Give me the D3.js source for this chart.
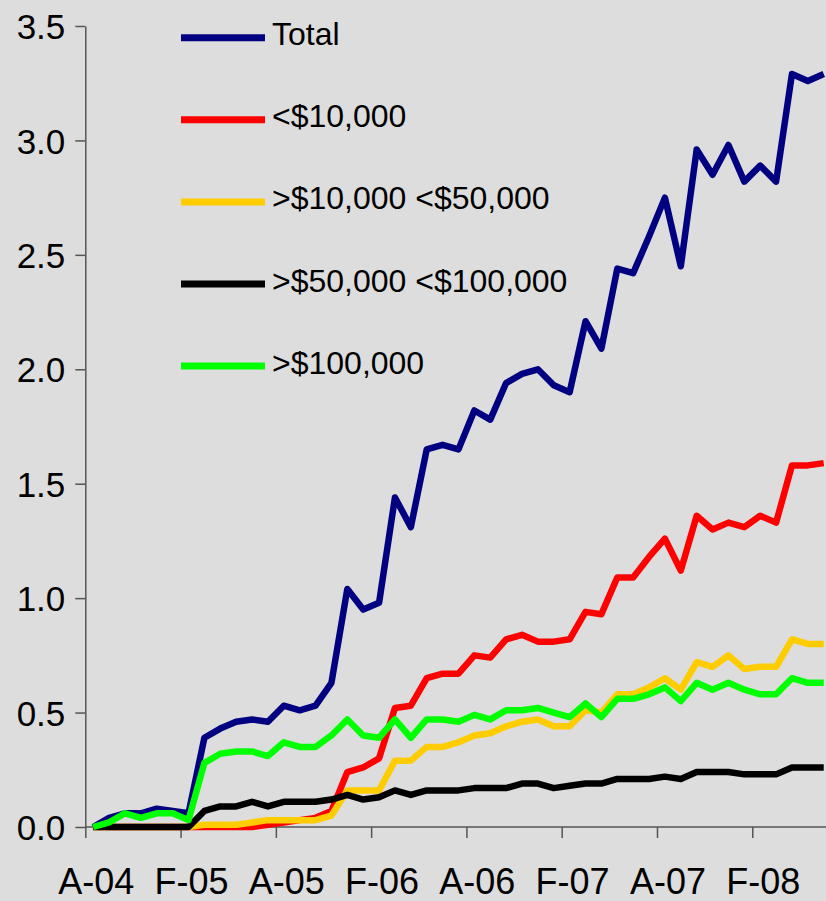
<!DOCTYPE html>
<html>
<head>
<meta charset="utf-8">
<script src="https://cdn.jsdelivr.net/npm/d3@7"></script>
<style>
  body { margin: 0; background: #dddddd; }
  text { font-family: "Liberation Sans", Arial, sans-serif; fill: #000; }
</style>
</head>
<body>
<script>
// monthly categories, Aug 2004 - Jun 2008
var months = ["Aug-04","Sep-04","Oct-04","Nov-04","Dec-04",
  "Jan-05","Feb-05","Mar-05","Apr-05","May-05","Jun-05","Jul-05","Aug-05","Sep-05","Oct-05","Nov-05","Dec-05",
  "Jan-06","Feb-06","Mar-06","Apr-06","May-06","Jun-06","Jul-06","Aug-06","Sep-06","Oct-06","Nov-06","Dec-06",
  "Jan-07","Feb-07","Mar-07","Apr-07","May-07","Jun-07","Jul-07","Aug-07","Sep-07","Oct-07","Nov-07","Dec-07",
  "Jan-08","Feb-08","Mar-08","Apr-08","May-08","Jun-08"];
var tickMonths = ["Aug-04","Feb-05","Aug-05","Feb-06","Aug-06","Feb-07","Aug-07","Feb-08"];
var tickLabels = ["A-04","F-05","A-05","F-06","A-06","F-07","A-07","F-08"];
var yTicks = [0, 0.5, 1, 1.5, 2, 2.5, 3, 3.5];

var seriesNames = ["Total", "<$10,000", ">$10,000 <$50,000", ">$50,000 <$100,000", ">$100,000"];
var seriesColors = ["#000080", "#ff0000", "#ffcc00", "#000000", "#00ff00"];

var total = [0.00,0.04,0.06,0.06,0.08,0.07,0.06,0.39,0.43,0.46,0.47,0.46,0.53,0.51,0.53,0.63,1.04,0.95,0.98,
  1.44,1.31,1.65,1.67,1.65,1.82,1.78,1.94,1.98,2.00,1.93,1.90,2.21,2.09,2.44,2.42,2.58,2.75,2.45,2.96,
  2.85,2.98,2.82,2.89,2.82,3.29,3.26,3.29];
var under10k = [0,0,0,0,0,0,0,0,0,0,0,0.01,0.02,0.03,0.04,0.07,0.24,0.26,0.30,
  0.52,0.53,0.65,0.67,0.67,0.75,0.74,0.82,0.84,0.81,0.81,0.82,0.94,0.93,1.09,1.09,1.18,1.26,1.12,1.36,
  1.30,1.33,1.31,1.36,1.33,1.58,1.58,1.59];
var from10to50k = [0,0,0,0,0,0,0,0.01,0.01,0.01,0.02,0.03,0.03,0.03,0.03,0.05,0.16,0.16,0.16,
  0.29,0.29,0.35,0.35,0.37,0.40,0.41,0.44,0.46,0.47,0.44,0.44,0.51,0.50,0.58,0.58,0.61,0.65,0.60,0.72,
  0.70,0.75,0.69,0.70,0.70,0.82,0.80,0.80];
var from50to100k = [0,0,0,0,0,0,0,0.07,0.09,0.09,0.11,0.09,0.11,0.11,0.11,0.12,0.14,0.12,0.13,
  0.16,0.14,0.16,0.16,0.16,0.17,0.17,0.17,0.19,0.19,0.17,0.18,0.19,0.19,0.21,0.21,0.21,0.22,0.21,0.24,
  0.24,0.24,0.23,0.23,0.23,0.26,0.26,0.26];
var over100k = [0.00,0.02,0.06,0.04,0.06,0.06,0.03,0.28,0.32,0.33,0.33,0.31,0.37,0.35,0.35,0.40,0.47,0.40,0.39,
  0.47,0.39,0.47,0.47,0.46,0.49,0.47,0.51,0.51,0.52,0.50,0.48,0.54,0.48,0.56,0.56,0.58,0.61,0.55,0.63,
  0.60,0.63,0.60,0.58,0.58,0.65,0.63,0.63];

var allSeries = [total, under10k, from10to50k, from50to100k, over100k];

var w = 826, h = 901;
var left = 85.3, bandW = 15.88;

var svg = d3.select("body").append("svg")
  .attr("width", w)
  .attr("height", h)
  .style("display", "block");

svg.append("rect").attr("width", w).attr("height", h).attr("fill", "#dddddd");

var x = d3.scaleBand()
  .domain(months)
  .range([left, left + months.length * bandW])
  .padding(0);
var y = d3.scaleLinear().domain([0, 3.5]).range([827, 26]);

// tick marks sit on the category boundaries
var xi = d3.scaleLinear().domain([0, months.length]).range(x.range());

// y axis
var yAxis = svg.append("g")
  .attr("transform", "translate(" + left + ",0)")
  .call(d3.axisLeft(y).tickValues(yTicks).tickFormat(d3.format(".1f"))
    .tickSize(10).tickSizeOuter(0).tickPadding(10));
yAxis.selectAll("text").style("font-size", "35px").attr("dy", "0.36em");

// x axis: line + boundary ticks
var xTickAxis = svg.append("g")
  .attr("transform", "translate(0,827)")
  .call(d3.axisBottom(xi).tickValues(d3.range(0, months.length, 6)).tickFormat("")
    .tickSize(11).tickSizeOuter(0));
xTickAxis.select(".domain").attr("d", "M" + left + ",0H" + w);

// x labels centred on their month
var xLabelAxis = svg.append("g")
  .attr("transform", "translate(3,827)")
  .call(d3.axisBottom(x).tickValues(tickMonths)
    .tickFormat(function(d, i) { return tickLabels[i]; })
    .tickSize(0).tickPadding(41));
xLabelAxis.select(".domain").remove();
xLabelAxis.selectAll("text").style("font-size", "36px");

svg.selectAll(".domain, .tick line").attr("stroke", "#555").attr("stroke-width", 1.5);

// lines
var line = d3.line()
  .x(function(d, i) { return x(months[i]) + x.bandwidth() / 2; })
  .y(function(d) { return y(d); });

svg.selectAll("path.series")
  .data(allSeries)
  .enter()
  .append("path")
  .attr("class", "series")
  .attr("d", line)
  .attr("fill", "none")
  .attr("stroke", function(d, i) { return seriesColors[i]; })
  .attr("stroke-width", 6.5)
  .attr("stroke-linejoin", "round");

// legend
var legend = svg.selectAll("g.legend")
  .data(seriesNames)
  .enter()
  .append("g")
  .attr("class", "legend")
  .attr("transform", function(d, i) { return "translate(181," + (37.7 + i * 82.1) + ")"; });

legend.append("line")
  .attr("x1", 0).attr("x2", 84)
  .attr("stroke", function(d, i) { return seriesColors[i]; })
  .attr("stroke-width", 7);

legend.append("text")
  .attr("x", 91)
  .attr("y", 7.5)
  .style("font-size", "32px")
  .text(function(d) { return d; });
</script>
</body>
</html>
